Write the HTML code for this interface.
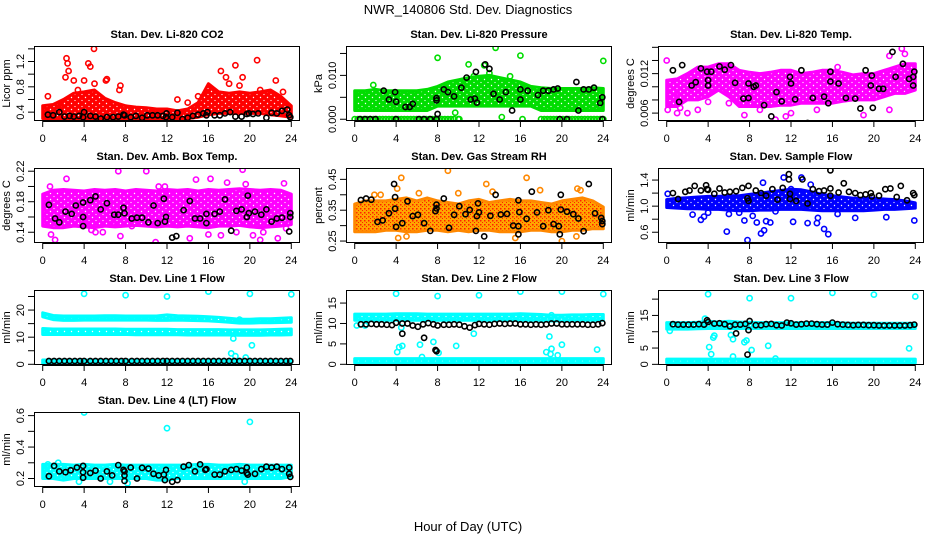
<!DOCTYPE html>
<html><head><meta charset="utf-8">
<style>
html,body{margin:0;padding:0;background:#fff;}
svg{display:block;font-family:"Liberation Sans",sans-serif;}
</style></head>
<body>
<svg id="chart" width="936" height="540" viewBox="0 0 936 540" xmlns="http://www.w3.org/2000/svg">
<defs id="defs">
<pattern id="rhpat" width="4" height="4" patternUnits="userSpaceOnUse"><rect width="4" height="4" fill="#ffa500"/><rect x="0" y="0" width="1.5" height="1.5" fill="#ff2000"/><rect x="2" y="2" width="1" height="1" fill="#ff2000"/></pattern>
</defs>
<text x="468" y="14" font-size="13" text-anchor="middle">NWR_140806  Std. Dev. Diagnostics</text>
<text x="468" y="531" font-size="13" text-anchor="middle">Hour of Day (UTC)</text>
<g id="plots"></g>
</svg>
<script>
const bandHours=[0,1,2,3,4,5,6,7,8,9,10,11,12,13,14,15,16,17,18,19,20,21,22,23,24];
const flowHours=[0.6,1.1,1.6,2.1,2.6,3.1,3.6,4.0,4.6,5.1,5.6,6.1,6.6,7.1,7.6,8.0,8.6,9.1,9.6,10.1,10.6,11.1,11.6,12.0,12.5,13.0,13.5,14.0,14.5,15.0,15.5,16.0,16.5,17.0,17.5,18.0,18.5,19.0,19.5,20.0,20.5,21.0,21.5,22.0,22.5,23.0,23.5,23.9];
const xTicks=[0,4,8,12,16,20,24];

// CO2
const co2Lo=[0.3,0.3,0.3,0.3,0.3,0.3,0.3,0.3,0.3,0.3,0.3,0.3,0.3,0.3,0.3,0.32,0.36,0.38,0.38,0.38,0.38,0.38,0.36,0.34,0.32];
const co2Hi=[0.5,0.52,0.6,0.7,0.72,0.75,0.62,0.55,0.5,0.48,0.47,0.45,0.45,0.42,0.45,0.55,0.85,0.72,0.7,0.72,0.7,0.72,0.75,0.65,0.5];
const co2Pts=[[0.5,0.65],[2.3,1.25],[2.4,1.17],[2.5,1.05],[2.2,0.95],[3,0.9],[4.4,1.17],[4.6,1.12],[4.95,1.4],[4,0.9],[6.2,0.92],[6.1,0.9],[7.5,0.82],[7.4,0.75],[13,0.6],[17.2,1.05],[17.7,0.95],[18.6,1.14],[19.3,0.95],[20.7,1.22],[22.5,0.9],[23.2,0.72],[21,0.75],[19,0.82],[18,0.85],[15,0.65],[1.5,0.5],[5,0.85],[3.4,0.75],[14,0.55]];
const co2Black=[[0.5,.36],[1,.35],[1.6,.4],[2.1,.33],[2.6,.34],[3,.33],[3.5,.34],[3.9,.32],[4,.4],[4.6,.34],[5.1,.33],[5.6,.3],[6.2,.32],[6.8,.32],[7.3,.33],[7.8,.36],[7.9,.35],[8.5,.32],[9,.34],[9.6,.31],[10.1,.35],[10.6,.35],[11.1,.35],[11.6,.34],[11.9,.32],[11.95,.38],[12.5,.32],[13,.39],[13.5,.29],[14,.31],[14.5,.34],[15,.36],[15.5,.38],[15.8,.35],[15.9,.4],[16.6,.35],[17.1,.35],[17.6,.38],[18.1,.4],[18.6,.33],[19.2,.33],[19.7,.37],[19.9,.38],[20.3,.37],[20.8,.38],[21.6,.31],[22.1,.39],[22.6,.38],[23.1,.42],[23.6,.44],[23.8,.35],[23.9,.32]];
// Pressure
const presLo=[0.002,0.002,0.002,0.002,0.002,0.002,0.002,0.002,0.003,0.003,0.003,0.003,0.003,0.003,0.003,0.003,0.003,0.003,0.002,0.002,0.002,0.002,0.002,0.002,0.002];
const presHi=[0.0065,0.0065,0.0068,0.0065,0.0065,0.0065,0.0065,0.0068,0.0075,0.0085,0.009,0.0095,0.0098,0.01,0.0095,0.009,0.0085,0.0075,0.0072,0.007,0.007,0.007,0.007,0.0072,0.007];
const presZeroX=[0,0.3,0.6,0.9,1.2,1.5,1.8,2.1,2.4,2.7,3,3.3,3.6,3.9,4.2,4.5,4.8,5.1,5.4,5.7,6,6.3,6.6,6.9,7.2,7.5,7.8,8.1,8.4,8.7,9,9.3,9.6,10,18,18.3,18.6,18.9,19.2,19.5,19.8,20.1,20.4,20.7,21,21.3,21.6,21.9,22.2,22.5,22.8,23.1,23.4,23.7,24];
const presPts=[[8,0.014],[11,0.0125],[13.6,0.0163],[16,0.0145],[24,0.0133],[12.5,0.0123],[13,0.0105],[15,0.0098],[9.7,0.0015],[10.1,0],[16.2,0],[14.2,0.0005],[1.8,0.0078],[11.5,0.0098]];
const presBlack=[[0.5,0],[1,0],[1.5,0],[2,0],[4,0],[6.2,0],[6.7,0],[7.3,0],[7.9,0],[19.8,0],[20.5,0],[23.9,0],[2.8,.0065],[3.3,.0045],[3.9,.0062],[4,.004],[4.9,.0028],[5.3,.0028],[5.6,.0035],[7.9,.0048],[8,.0012],[7.9,.0043],[8.6,.0068],[9,.0062],[9.6,.0052],[10.3,.0072],[10.8,.0095],[11.2,.0045],[11.6,.0047],[11.7,.0108],[11.8,.0038],[12.6,.0125],[13,.0115],[13.4,.0058],[14,.0045],[14.6,.0062],[15.2,.002],[16,.0068],[16,.0045],[16.7,.0065],[17.7,.0055],[18.2,.0065],[18.7,.0065],[19.2,.0068],[19.6,.007],[21.4,.0085],[21.6,.002],[22.1,.0068],[22.6,.0068],[23.1,.0072],[23.7,.0037],[23.9,.005]];
// Li-820 temp
const tempLo=[0.007,0.007,0.008,0.008,0.0085,0.0095,0.0085,0.007,0.007,0.007,0.007,0.0072,0.0072,0.0075,0.0075,0.0075,0.0075,0.0078,0.008,0.008,0.008,0.0085,0.009,0.009,0.0095];
const tempHi=[0.011,0.0112,0.012,0.013,0.013,0.0135,0.0135,0.0125,0.0122,0.012,0.0122,0.0125,0.0125,0.012,0.0122,0.0125,0.0125,0.0122,0.0118,0.012,0.012,0.0125,0.013,0.0135,0.0135];
const tempPts=[[0,.014],[0.1,.0065],[1,.006],[2,.006],[3,.0065],[6,.0075],[7.5,.0057],[10.5,.005],[11.5,.0055],[14.5,.0065],[19,.0057],[21.5,.0065],[21.5,.0147],[22.7,.0158],[23,.015],[12,.006],[9,.0065],[16.5,.013],[4,.0077],[0.8,.0085],[1.3,.0068]];
const tempBlack=[[0.6,.0125],[1.2,.0077],[1.5,.0133],[2.4,.0102],[2.8,.0107],[3.3,.0128],[3.9,.0123],[4,.0102],[4,.011],[4.3,.0123],[5.1,.0131],[5.6,.0126],[6.2,.0133],[6.6,.0106],[7.4,.0082],[7.9,.0105],[7.9,.0083],[8.4,.01],[8.6,.0102],[9.4,.0072],[10.1,.0055],[10.6,.0092],[11.1,.0078],[11.9,.0115],[12,.0105],[12.4,.0081],[13,.0125],[13.6,.0045],[14.1,.0083],[15.2,.0085],[15.6,.0075],[15.8,.0123],[15.8,.0108],[16.6,.0105],[17.3,.0083],[18.2,.0082],[18.7,.0067],[19.2,.0125],[19.7,.0102],[19.8,.0117],[19.9,.0068],[20.5,.0097],[20.9,.0097],[21.8,.0153],[22.1,.0115],[22.8,.0135],[23.4,.0112],[23.8,.0115],[23.9,.0123],[23.8,.0102]];
// Amb box temp
const ambLo=[0.148,0.146,0.146,0.148,0.147,0.146,0.148,0.147,0.148,0.149,0.148,0.147,0.148,0.147,0.148,0.147,0.146,0.148,0.148,0.149,0.147,0.146,0.147,0.148,0.15];
const ambHi=[0.19,0.195,0.196,0.195,0.194,0.196,0.195,0.196,0.194,0.196,0.195,0.194,0.196,0.195,0.196,0.194,0.196,0.195,0.196,0.197,0.196,0.195,0.196,0.195,0.19];
const ambPts=[[0.8,.137],[1.2,.13],[3.4,.152],[4.1,.155],[4.7,.143],[5.1,.14],[5.8,.14],[7,.15],[7.3,.22],[7.5,.135],[8.6,.148],[10,.22],[10.9,.127],[11.2,.2],[11.8,.2],[13,.15],[14.2,.132],[14.8,.209],[16,.137],[16.2,.21],[17.2,.136],[17.8,.205],[18.7,.14],[19.3,.222],[19.6,.203],[20.3,.136],[21,.13],[21.3,.14],[22.7,.132],[23.3,.204],[23.5,.145],[2.3,.21],[0.7,.2]];
const ambBlack=[[0.6,.176],[1.2,.158],[1.6,.153],[2.2,.167],[2.8,.164],[3.2,.175],[3.9,.179],[3.9,.16],[3.9,.148],[4.6,.182],[5.1,.187],[5.6,.17],[6.2,.178],[6.9,.163],[7.3,.163],[7.8,.172],[7.9,.165],[8.6,.158],[9.1,.159],[9.6,.159],[10.2,.153],[10.7,.175],[11.1,.152],[11.7,.184],[11.9,.16],[11.8,.154],[12.5,.133],[12.9,.135],[13.6,.169],[14.2,.181],[14.7,.158],[15.2,.158],[15.8,.164],[15.8,.152],[16.6,.164],[17.1,.167],[17.6,.183],[18.2,.142],[18.7,.168],[19.2,.17],[19.7,.16],[19.8,.188],[19.9,.165],[20.5,.167],[21.1,.163],[21.6,.17],[22.1,.154],[22.6,.158],[23.1,.159],[23.8,.141],[23.9,.16],[23.9,.165]];
// RH
const rhLo=[0.28,0.28,0.28,0.285,0.285,0.28,0.28,0.285,0.285,0.28,0.285,0.28,0.285,0.285,0.28,0.28,0.28,0.285,0.285,0.28,0.28,0.285,0.285,0.29,0.29];
const rhHi=[0.37,0.38,0.38,0.38,0.385,0.39,0.38,0.39,0.38,0.375,0.37,0.38,0.385,0.375,0.38,0.385,0.38,0.38,0.375,0.37,0.38,0.385,0.39,0.38,0.36];
const rhPts=[[4.5,.455],[9,.478],[16.6,.455],[12.7,.435],[13.3,.41],[10,.405],[6.2,.405],[1.9,.4],[17.9,.415],[21.8,.415],[4.2,.26],[15.5,.26],[20,.25],[21.4,.265],[5,.265],[4.1,.42],[2.5,.4],[21.5,.42]];
const rhBlack=[[0.6,.383],[1.1,.388],[1.6,.384],[2.2,.312],[2.7,.317],[3.3,.34],[3.9,.392],[3.8,.435],[3.9,.355],[4,.296],[4.6,.308],[5.1,.379],[5.6,.331],[6.1,.335],[6.7,.308],[7.3,.283],[7.9,.368],[7.9,.356],[7.8,.347],[8.6,.388],[9.1,.293],[9.6,.335],[10.1,.363],[10.7,.337],[11.1,.351],[11.7,.283],[11.8,.331],[11.9,.372],[12,.343],[12.5,.265],[13.1,.332],[13.6,.4],[14.1,.336],[14.7,.338],[15.3,.3],[15.8,.298],[15.8,.272],[15.8,.382],[15.9,.344],[16.6,.322],[17.1,.41],[17.6,.343],[18.2,.298],[18.7,.35],[19.2,.305],[19.7,.298],[19.8,.272],[19.9,.352],[19.9,.4],[20.5,.345],[21.1,.337],[21.6,.323],[22.1,.282],[22.6,.435],[23.2,.34],[23.8,.325],[23.9,.315],[23.9,.305]];
// Sample flow
const sfLo=[0.98,0.97,0.96,0.96,0.95,0.95,0.94,0.93,0.93,0.94,0.94,0.95,0.95,0.95,0.94,0.93,0.93,0.93,0.93,0.93,0.94,0.95,0.95,0.96,0.97];
const sfHi=[1.1,1.12,1.13,1.14,1.15,1.15,1.16,1.16,1.18,1.2,1.22,1.24,1.26,1.25,1.22,1.18,1.16,1.14,1.12,1.12,1.12,1.11,1.1,1.08,1.05];
const sfPts=[[0.1,1.19],[2.5,0.87],[3.3,0.79],[3.6,0.84],[5.8,0.61],[7.5,0.78],[7.8,0.48],[8.7,0.75],[9.1,0.58],[9.4,0.63],[9.6,0.77],[10,0.75],[10.5,0.92],[11.3,1.44],[12.2,0.76],[13,1.44],[13.6,0.74],[13.9,1.33],[14.5,0.74],[14.6,0.82],[15.2,0.65],[15.6,0.57],[16.5,0.88],[18.2,0.82],[21.2,0.83],[23.9,0.78],[9.3,1.36],[12,1.26],[6,0.88],[7,0.9],[8.3,0.85],[4,0.9]];
const sfBlack=[[0.6,1.2],[1.1,1.11],[1.8,1.22],[2.2,1.24],[2.7,1.31],[3.3,1.24],[3.8,1.32],[3.9,1.26],[4,1.25],[4.6,1.19],[5.1,1.27],[5.6,1.21],[6.1,1.22],[6.7,1.23],[7.3,1.28],[7.8,1.12],[7.9,1.31],[7.9,1.08],[8.6,1.24],[9.1,1.2],[9.6,1.16],[10.2,1.26],[10.7,1.1],[11.2,1.28],[11.8,1.49],[11.8,1.41],[11.9,1.19],[11.9,1.11],[12.5,1.08],[13.1,1.41],[13.6,1.04],[14.1,1.26],[14.7,1.23],[15.2,1.24],[15.8,1.27],[15.8,1.16],[15.8,1.55],[16.6,1.21],[17.1,1.35],[17.6,1.22],[18.2,1.2],[18.7,1.17],[19.2,1.18],[19.7,1.2],[19.8,1.15],[20.5,1.16],[21.1,1.26],[21.6,1.27],[22.2,1.14],[22.6,1.31],[23.2,1.09],[23.8,1.2],[23.9,1.17]];
// Line 1
const l1aLo=[17.5,16.5,16.2,16.2,16.3,16.3,16.3,16.3,16.3,16.3,16.3,16.2,16.2,16.3,16.2,16.1,16,15.8,15.5,15.2,15.2,15.3,15.3,15.4,15.5];
const l1aHi=[19,18,17.8,17.8,17.8,17.8,17.9,17.9,17.8,17.8,17.8,17.8,18.2,17.9,17.8,17.7,17.5,17.3,17,16.6,16.6,16.8,16.8,17,17.2];
const l1bLo=[11,11,11,11,11,11,11,11,11,10.9,10.9,10.9,10.9,10.9,10.8,10.8,10.8,10.8,10.8,10.7,10.7,10.7,10.8,10.8,10.9];
const l1bHi=[13.2,13,13,13,13,13,13,13,12.9,12.9,12.9,12.9,12.9,12.8,12.8,12.8,12.8,12.8,12.7,12.7,12.7,12.7,12.8,12.9,13];
const l1cLo=[0.4,0.4,0.4,0.4,0.4,0.4,0.4,0.4,0.4,0.4,0.4,0.4,0.4,0.4,0.4,0.4,0.4,0.4,0.4,0.4,0.4,0.4,0.4,0.4,0.4];
const l1cHi=[1.6,1.6,1.6,1.6,1.6,1.6,1.6,1.6,1.6,1.6,1.6,1.6,1.6,1.6,1.6,1.6,1.6,1.6,1.6,1.6,1.6,1.6,1.6,1.6,1.6];
const l1Pts=[[4,26],[8,25.5],[12,25],[16,26.8],[20,26],[24,25.8],[18.4,9.5],[18.2,4],[18.6,3],[19.6,2.5],[20.2,7],[19,16.5],[19.2,16]];
const l1Y=[1.2,1.2,1.2,1.2,1.2,1.2,1.2,1.2,1.2,1.2,1.2,1.2,1.2,1.2,1.2,1.2,1.2,1.2,1.2,1.2,1.2,1.2,1.2,1.2,1.2,1.2,1.2,1.2,1.2,1.2,1.2,1.2,1.2,1.2,1.2,1.2,1.2,1.2,1.2,1.2,1.2,1.2,1.2,1.2,1.2,1.2,1.2,1.2];
// Line 2
const l2aLo=[10.8,10.8,10.8,10.8,10.8,10.8,10.8,10.8,10.8,10.8,10.8,10.8,10.8,10.8,10.8,10.8,10.8,10.8,10.8,10.6,10.6,10.8,10.8,10.8,10.8];
const l2aHi=[12.3,12.3,12.3,12.3,12.4,12.4,12.4,12.3,12.3,12.3,12.3,12.3,12.3,12.3,12.3,12.3,12.4,12.3,12.2,12,12,12.1,12.1,12.2,12.2];
const l2cLo=[0.4,0.4,0.4,0.4,0.4,0.4,0.4,0.4,0.4,0.4,0.4,0.4,0.4,0.4,0.4,0.4,0.4,0.4,0.4,0.4,0.4,0.4,0.4,0.4,0.4];
const l2cHi=[1.4,1.4,1.4,1.4,1.4,1.4,1.4,1.4,1.4,1.4,1.4,1.4,1.4,1.4,1.4,1.4,1.4,1.4,1.4,1.4,1.4,1.4,1.4,1.4,1.4];
const l2Pts=[[4,17.3],[8,16.7],[12,16.9],[16,17.8],[20,17.8],[24,17.2],[4.1,3],[4.3,4.2],[4.6,4.5],[6.3,4.8],[6.5,1.8],[7.6,5.5],[8.1,2.8],[9.8,4.5],[11.5,7.5],[18.5,3],[18.9,2.5],[18.8,6.8],[19,3.8],[19.6,2.2],[20,4.8],[23.4,3.6],[4.5,9],[19,12],[0.2,9.5],[1,9.5]];
const l2Y=[9.8,9.8,9.9,9.8,9.8,9.7,9.6,10.2,10.0,10.0,9.5,9.2,9.8,10.1,9.8,9.5,9.7,9.7,9.8,9.7,9.3,9.0,9.6,9.9,9.8,9.7,9.9,10.0,9.9,10.0,10.0,9.8,9.8,9.7,9.8,9.7,9.8,10.0,10.0,9.8,9.8,9.8,9.8,9.8,9.7,9.7,9.8,10.1];
const l2BlackExtra=[[4.6,7.5],[6.7,6.5],[7.8,3.5],[7.9,3.2]];
// Line 3
const l3aLo=[10.8,10.8,10.8,10.9,11,11,11,11,11,11,11,11,11,11,11,11,11,11,11,11,11,11,11,11,11];
const l3aHi=[12.8,12.8,12.8,12.9,13.2,13,13.2,13,12.9,12.8,12.8,12.8,12.8,12.8,12.8,12.8,12.8,12.7,12.6,12.6,12.6,12.6,12.6,12.6,12.6];
const l3cLo=[0.5,0.5,0.5,0.5,0.5,0.5,0.5,0.5,0.5,0.5,0.5,0.5,0.5,0.5,0.5,0.5,0.5,0.5,0.5,0.5,0.5,0.5,0.5,0.5,0.5];
const l3cHi=[1.6,1.6,1.6,1.6,1.6,1.6,1.6,1.6,1.6,1.6,1.6,1.6,1.6,1.6,1.6,1.6,1.6,1.6,1.6,1.6,1.6,1.6,1.6,1.6,1.6];
const l3Pts=[[4,21.5],[8,20.3],[12,20.3],[16,21.9],[20,21.4],[24,20.8],[3.7,14],[4.1,5.3],[4.3,3.1],[4.5,8.2],[4.6,8.8],[6.2,9],[6.4,7.7],[6.4,2.4],[7.5,6.8],[7.7,7.3],[8.2,4.4],[9.8,5.7],[10.5,1.8],[23.4,4.9],[0.3,10.3]];
const l3Y=[12.3,12.2,12.2,12.2,12.2,12.3,12.2,13.0,12.5,12.6,12.3,11.7,12.2,12.2,12.4,13.3,12.0,12.0,12.3,12.4,12.0,11.9,12.8,12.6,12.2,12.3,12.5,12.5,12.3,12.2,12.2,12.8,12.3,12.2,12.1,12.0,12.1,12.1,12.0,12.0,11.9,11.9,11.9,11.9,11.9,11.9,12.0,12.2];
const l3BlackExtra=[[6.7,9.5],[7.8,3],[7.9,10.5],[3.9,13.5]];
// Line 4
const l4Lo=[0.2,0.2,0.19,0.2,0.2,0.2,0.2,0.2,0.2,0.2,0.2,0.19,0.19,0.2,0.2,0.2,0.2,0.2,0.2,0.2,0.2,0.2,0.2,0.2,0.21];
const l4Hi=[0.29,0.29,0.29,0.285,0.29,0.285,0.285,0.29,0.285,0.285,0.285,0.285,0.285,0.285,0.285,0.29,0.29,0.285,0.285,0.29,0.285,0.285,0.285,0.285,0.285];
const l4Pts=[[4,0.62],[12,0.52],[20,0.56],[8.2,0.17],[1.5,0.3],[0.5,0.29],[3.5,0.18],[6.5,0.18],[19.5,0.18]];
const l4Black=[[0.6,.215],[1.1,.28],[1.6,.245],[2.2,.24],[2.7,.252],[3.3,.27],[3.9,.28],[3.9,.24],[3.9,.205],[4.6,.235],[5.1,.25],[5.6,.2],[6.2,.245],[6.7,.22],[7.3,.285],[7.8,.255],[7.9,.245],[7.9,.22],[7.9,.185],[8.5,.27],[9.1,.2],[9.6,.268],[10.2,.263],[10.7,.23],[11.2,.22],[11.7,.225],[11.8,.19],[11.9,.255],[12.5,.18],[13,.19],[13.6,.275],[14.1,.285],[14.7,.245],[15.2,.29],[15.7,.255],[15.8,.26],[16.6,.225],[17.1,.225],[17.6,.245],[18.2,.255],[18.7,.26],[19.2,.25],[19.7,.27],[19.7,.235],[19.8,.225],[20.5,.23],[21.1,.26],[21.6,.275],[22.1,.27],[22.6,.275],[23.1,.26],[23.8,.27],[23.8,.23],[23.9,.21]];

const NS="http://www.w3.org/2000/svg";
const root=document.getElementById('plots');
const defs=document.getElementById('defs');
function mk(tag,attrs,parent){const e=document.createElementNS(NS,tag);for(const k in attrs)e.setAttribute(k,attrs[k]);(parent||root).appendChild(e);return e;}
function zip(xs,ys){return xs.map((x,i)=>[x,ys[i]]);}
function speckle(id,color){
  const p=mk('pattern',{id:id,width:7,height:6,patternUnits:'userSpaceOnUse'},defs);
  mk('rect',{width:7,height:6,fill:color},p);
  mk('circle',{cx:1.5,cy:1.5,r:0.7,fill:'#fff'},p);
  mk('circle',{cx:5,cy:4.5,r:0.6,fill:'#fff'},p);
  return 'url(#'+id+')';
}

const colX=[34,346,658], rowY=[46,168,290,412], W=266, H=75;
const panels=[
 {name:'co2',title:'Stan. Dev. Li-820 CO2',ylab:'Licor ppm',col:0,row:0,ymin:0.26,ymax:1.445,color:'#ff0000',fill:'sp',
  ticks:[0.4,0.6,0.8,1.0,1.2,1.4],labels:[[0.4,'0.4'],[0.8,'0.8'],[1.2,'1.2']],bands:[[co2Lo,co2Hi]],pts:co2Pts,black:co2Black},
 {name:'pressure',title:'Stan. Dev. Li-820 Pressure',ylab:'kPa',col:1,row:0,ymin:-0.0004,ymax:0.0167,color:'#00dd00',fill:'sp',
  ticks:[0,0.005,0.01,0.015],labels:[[0,'0.000'],[0.01,'0.010']],bands:[[presLo,presHi]],pts:presPts.concat(presZeroX.map(x=>[x,0])),black:presBlack},
 {name:'li820-temp',title:'Stan. Dev. Li-820 Temp.',ylab:'degrees C',col:2,row:0,ymin:0.0048,ymax:0.0162,color:'#ff00ff',fill:'sp',
  ticks:[0.006,0.008,0.01,0.012,0.014,0.016],labels:[[0.006,'0.006'],[0.012,'0.012']],bands:[[tempLo,tempHi]],pts:tempPts,black:tempBlack},
 {name:'amb-box-temp',title:'Stan. Dev. Amb. Box Temp.',ylab:'degrees C',col:0,row:1,ymin:0.1259,ymax:0.2242,color:'#ff00ff',fill:'sp',
  ticks:[0.14,0.16,0.18,0.2,0.22],labels:[[0.14,'0.14'],[0.18,'0.18'],[0.22,'0.22']],bands:[[ambLo,ambHi]],pts:ambPts,black:ambBlack},
 {name:'gas-stream-rh',title:'Stan. Dev. Gas Stream RH',ylab:'percent',col:1,row:1,ymin:0.2437,ymax:0.4868,color:'#ff8800',fill:'url(#rhpat)',
  ticks:[0.25,0.3,0.35,0.4,0.45],labels:[[0.25,'0.25'],[0.35,'0.35'],[0.45,'0.45']],bands:[[rhLo,rhHi]],pts:rhPts,black:rhBlack},
 {name:'sample-flow',title:'Stan. Dev. Sample Flow',ylab:'ml/min',col:2,row:1,ymin:0.435,ymax:1.585,color:'#0000ff',fill:'sp',
  ticks:[0.6,0.8,1.0,1.2,1.4],labels:[[0.6,'0.6'],[1.0,'1.0'],[1.4,'1.4']],bands:[[sfLo,sfHi]],pts:sfPts,black:sfBlack},
 {name:'line1-flow',title:'Stan. Dev. Line 1 Flow',ylab:'ml/min',col:0,row:2,ymin:-0.26,ymax:27.4,color:'#00ffff',fill:'sp',
  ticks:[0,5,10,15,20,25],labels:[[0,'0'],[10,'10'],[20,'20']],bands:[[l1aLo,l1aHi],[l1bLo,l1bHi],[l1cLo,l1cHi]],pts:l1Pts,black:zip(flowHours,l1Y)},
 {name:'line2-flow',title:'Stan. Dev. Line 2 Flow',ylab:'ml/min',col:1,row:2,ymin:-0.17,ymax:18.2,color:'#00ffff',fill:'sp',
  ticks:[0,5,10,15],labels:[[0,'0'],[5,'5'],[10,'10'],[15,'15']],bands:[[l2aLo,l2aHi],[l2cLo,l2cHi]],pts:l2Pts,black:zip(flowHours,l2Y).concat(l2BlackExtra)},
 {name:'line3-flow',title:'Stan. Dev. Line 3 Flow',ylab:'ml/min',col:2,row:2,ymin:-0.2,ymax:22.8,color:'#00ffff',fill:'sp',
  ticks:[0,5,10,15,20],labels:[[0,'0'],[5,'5'],[15,'15']],bands:[[l3aLo,l3aHi],[l3cLo,l3cHi]],pts:l3Pts,black:zip(flowHours,l3Y).concat(l3BlackExtra)},
 {name:'line4-flow',title:'Stan. Dev. Line 4 (LT) Flow',ylab:'ml/min',col:0,row:3,ymin:0.146,ymax:0.623,color:'#00ffff',fill:'sp',
  ticks:[0.2,0.3,0.4,0.5,0.6],labels:[[0.2,'0.2'],[0.4,'0.4'],[0.6,'0.6']],bands:[[l4Lo,l4Hi]],pts:l4Pts,black:l4Black}
];

panels.forEach(p=>{
  const L=colX[p.col], T=rowY[p.row], R=L+W, B=T+H;
  const xs=v=>L+8.7+(v/24)*(W-17.4);
  const ys=v=>B-(v-p.ymin)/(p.ymax-p.ymin)*H;
  const fill=p.fill==='sp'?speckle('sp-'+p.name,p.color):p.fill;
  const g=mk('g',{});
  
  
  const t=mk('text',{x:(L+R)/2,y:T-8,'font-size':11,'font-weight':'bold','text-anchor':'middle'},g);
  t.textContent=p.title;
  
  
  const cp=mk('clipPath',{id:'clip-'+p.name},g);
  mk('rect',{x:L,y:T,width:W,height:H},cp);
  const plot=mk('g',{'clip-path':'url(#clip-'+p.name+')'},g);
  p.bands.forEach((b,bi)=>{
    let d='';
    bandHours.forEach((h,i)=>{d+=(i?'L':'M')+xs(h).toFixed(1)+','+ys(b[1][i]).toFixed(1);});
    for(let i=bandHours.length-1;i>=0;i--){d+='L'+xs(bandHours[i]).toFixed(1)+','+ys(b[0][i]).toFixed(1);}
    const path=mk('path',{d:d+'Z',fill:fill,stroke:p.color,'stroke-width':3,'stroke-linejoin':'round'},plot);
    
    
  });
  p.pts.forEach(pt=>{
    const c=mk('circle',{cx:xs(pt[0]).toFixed(1),cy:ys(pt[1]).toFixed(1),r:2.6,fill:'none',stroke:p.color,'stroke-width':1.6},plot);
    
    
  });
  p.black.forEach(pt=>{
    const c=mk('circle',{cx:xs(pt[0]).toFixed(1),cy:ys(pt[1]).toFixed(1),r:2.6,fill:'none',stroke:'#000','stroke-width':1.6},plot);
    
    
  });
  const box=mk('rect',{x:L+0.5,y:T+0.5,width:W-1,height:H-1,fill:'none',stroke:'#000','stroke-width':1},g);
  
  
  xTicks.forEach(v=>{
    mk('line',{x1:xs(v),x2:xs(v),y1:B,y2:B+6,stroke:'#000'},g);
    const tl=mk('text',{x:xs(v),y:B+21,'font-size':11,'text-anchor':'middle'},g);
    tl.textContent=v;
    
    
  });
  mk('line',{x1:xs(0),x2:xs(24),y1:B+0.5,y2:B+0.5,stroke:'#000'},g);
  p.ticks.forEach(v=>{ if(v>=p.ymin&&v<=p.ymax) mk('line',{x1:L-6,x2:L,y1:ys(v),y2:ys(v),stroke:'#000'},g);});
  p.labels.forEach(l=>{
    const yy=ys(l[0]);
    const tl=mk('text',{x:0,y:0,'font-size':11,'text-anchor':'middle',transform:'translate('+(L-10)+','+yy.toFixed(1)+') rotate(-90)'},g);
    tl.textContent=l[1];
    
    
  });
  const yl=mk('text',{x:0,y:0,'font-size':11,'text-anchor':'middle',transform:'translate('+(L-24)+','+(T+H/2)+') rotate(-90)'},g);
  yl.textContent=p.ylab;
  
  
});
</script>
</body></html>
